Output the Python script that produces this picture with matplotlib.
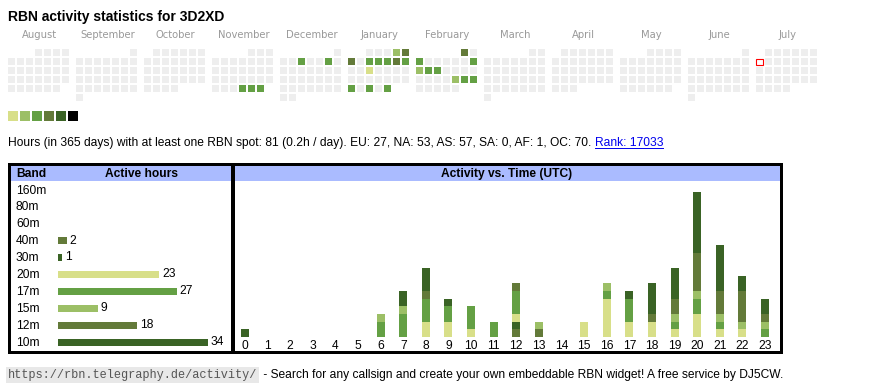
import datetime as dt
import matplotlib
matplotlib.use("Agg")
import matplotlib.pyplot as plt
from matplotlib.patches import Rectangle

W, H = 870, 390

# calendar data (Aug 2024 - Jul 2025), weeks start on Monday
months = ["August", "September", "October", "November", "December", "January",
          "February", "March", "April", "May", "June", "July"]
month_starts = [(2024, 8), (2024, 9), (2024, 10), (2024, 11), (2024, 12), (2025, 1),
                (2025, 2), (2025, 3), (2025, 4), (2025, 5), (2025, 6), (2025, 7)]
today = dt.date(2025, 7, 7)

active_days = ["2024-11-28", "2024-11-29", "2024-11-30", "2024-12-04", "2024-12-07",
               "2025-01-04", "2025-01-05", "2025-01-06", "2025-01-08", "2025-01-09",
               "2025-01-10", "2025-01-11", "2025-01-12", "2025-01-15", "2025-01-27",
               "2025-01-29", "2025-01-31", "2025-02-01", "2025-02-03", "2025-02-09",
               "2025-02-10", "2025-02-11", "2025-02-12", "2025-02-21", "2025-02-22",
               "2025-02-23"]
active_levels = [3, 3, 3, 3, 3,
                 2, 4, 4, 3, 3,
                 3, 4, 3, 1, 3,
                 3, 3, 4, 3, 3,
                 2, 3, 3, 2, 3,
                 3]

level_colors = ["#eeeeee", "#d8df89", "#9cbf66", "#64a044", "#637a39", "#3a6325", "#000000"]

# bands
bands = ["160m", "80m", "60m", "40m", "30m", "20m", "17m", "15m", "12m", "10m"]
band_hours = [0, 0, 0, 2, 1, 23, 27, 9, 18, 34]
band_colors = ["#d8df89", "#9cbf66", "#64a044", "#637a39", "#3a6325",
               "#d8df89", "#64a044", "#9cbf66", "#637a39", "#3a6325"]

# active hours per UTC hour for each band
hours = list(range(24))
h_160m = [0] * 24
h_80m = [0] * 24
h_60m = [0] * 24
h_40m = [0, 0, 0, 0, 0, 0, 0, 0, 0, 0, 0, 0, 1, 1, 0, 0, 0, 0, 0, 0, 0, 0, 0, 0]
h_30m = [0, 0, 0, 0, 0, 0, 0, 0, 0, 0, 0, 0, 1, 0, 0, 0, 0, 0, 0, 0, 0, 0, 0, 0]
h_20m = [0, 0, 0, 0, 0, 0, 0, 0, 2, 2, 1, 0, 1, 0, 0, 2, 5, 2, 2, 1, 3, 1, 1, 0]
h_17m = [0, 0, 0, 0, 0, 0, 2, 3, 3, 2, 3, 2, 3, 0, 0, 0, 1, 3, 0, 1, 2, 1, 0, 1]
h_15m = [0, 0, 0, 0, 0, 0, 1, 1, 0, 0, 0, 0, 0, 1, 0, 0, 1, 0, 0, 1, 1, 1, 1, 1]
h_12m = [0, 0, 0, 0, 0, 0, 0, 0, 1, 0, 0, 0, 1, 0, 0, 0, 0, 0, 1, 2, 5, 3, 4, 1]
h_10m = [1, 0, 0, 0, 0, 0, 0, 2, 3, 1, 0, 0, 0, 0, 0, 0, 0, 1, 4, 4, 8, 6, 2, 2]
hourly = [h_160m, h_80m, h_60m, h_40m, h_30m, h_20m, h_17m, h_15m, h_12m, h_10m]

title = "RBN activity statistics for 3D2XD"
info = ("Hours (in 365 days) with at least one RBN spot: 81 (0.2h / day). "
        "EU: 27, NA: 53, AS: 57, SA: 0, AF: 1, OC: 70.")
rank = "Rank: 17033"
url = "https://rbn.telegraphy.de/activity/"
footer = " - Search for any callsign and create your own embeddable RBN widget! A free service by DJ5CW."

SANS = ["Liberation Sans", "DejaVu Sans"]
FS = 8.64
HEAD_BLUE = "#aabbff"


def px_rect(x0, y0, x1, y1):
    return [x0 / W, 1 - y1 / H, (x1 - x0) / W, (y1 - y0) / H]


fig = plt.figure(figsize=(W / 100, H / 100), dpi=100)
ax = fig.add_axes([0, 0, 1, 1])
ax.set_xlim(0, W)
ax.set_ylim(H, 0)
ax.axis("off")

ax.text(8, 21, title, fontsize=10.0, fontweight="bold", family=SANS, va="baseline")

# calendar grid
levels = dict(zip(active_days, active_levels))
for k, (name, (yy, mm)) in enumerate(zip(months, month_starts)):
    x0 = 8 + 68 * k
    ax.text(x0 + 31.5, 38, name, fontsize=7.2, color="#999999", family="DejaVu Sans",
            ha="center", va="baseline")
    d = dt.date(yy, mm, 1)
    offset = d.weekday()
    while d.month == mm:
        col = d.weekday()
        row = (d.day - 1 + offset) // 7
        lvl = levels.get(d.isoformat(), 0)
        cx, cy = x0 + 9 * col, 49 + 9 * row
        if d == today:
            ax.add_patch(Rectangle((cx + 0.5, cy + 0.5), 6.5, 6.5, facecolor="white",
                                   edgecolor="red", linewidth=0.8))
        else:
            ax.add_patch(Rectangle((cx, cy), 7, 7, facecolor=level_colors[lvl], linewidth=0))
        d += dt.timedelta(days=1)

# legend squares
for i, c in enumerate(level_colors[1:]):
    ax.add_patch(Rectangle((8 + 12 * i, 111), 10, 10, facecolor=c, linewidth=0))

# info line
t_info = ax.text(8, 146, info, fontsize=FS, family=SANS, va="baseline")
fig.canvas.draw()
inv = ax.transData.inverted()
bb = t_info.get_window_extent()
x_end = inv.transform((bb.x1, bb.y0))[0]
t_rank = ax.text(x_end + 3.5, 146, rank, fontsize=FS, family=SANS, color="#0000ee",
                 va="baseline")
fig.canvas.draw()
bb = t_rank.get_window_extent()
rx0 = inv.transform((bb.x0, bb.y0))[0]
rx1 = inv.transform((bb.x1, bb.y0))[0]
ax.plot([rx0, rx1], [147.5, 147.5], color="#0000ee", linewidth=0.7)

# boxes and headers
ax.add_patch(Rectangle((11, 165), 220, 16, facecolor=HEAD_BLUE, linewidth=0))
ax.add_patch(Rectangle((235, 165), 545, 16, facecolor=HEAD_BLUE, linewidth=0))
ax.add_patch(Rectangle((9.5, 163.5), 223, 188, facecolor="none", edgecolor="black",
                       linewidth=2.16, joinstyle="miter"))
ax.add_patch(Rectangle((233.5, 163.5), 547.5, 188, facecolor="none", edgecolor="black",
                       linewidth=2.16, joinstyle="miter"))
ax.text(16, 177, "Band", fontsize=FS, fontweight="bold", family=SANS, va="baseline")
ax.text(142, 177, "Active hours", fontsize=FS, fontweight="bold", family=SANS,
        ha="center", va="baseline")
ax.text(507, 177, "Activity vs. Time (UTC)", fontsize=FS, fontweight="bold", family=SANS,
        ha="center", va="baseline")

for i, b in enumerate(bands):
    ax.text(16, 193.5 + 16.95 * i, b, fontsize=FS, family=SANS, va="baseline")

# band bars
axb = fig.add_axes(px_rect(58, 181, 230, 350))
axb.set_xlim(0, 172 / 4.41)
axb.set_ylim(9.457, -0.513)
axb.axis("off")
bars = axb.barh(range(len(bands)), band_hours, height=0.41, color=band_colors, linewidth=0)
axb.bar_label(bars, labels=[str(v) if v else "" for v in band_hours], padding=2,
              fontsize=FS, family=SANS)

# hourly stacked bars
axh = fig.add_axes(px_rect(233.7, 181, 776.3, 337))
axh.set_xlim(-0.5, 23.5)
axh.set_ylim(0, 156 / 7.65)
bottom = [0] * 24
for vals, c in zip(hourly, band_colors):
    axh.bar(hours, vals, bottom=bottom, width=0.354, color=c, linewidth=0)
    bottom = [b + v for b, v in zip(bottom, vals)]
for s in axh.spines.values():
    s.set_visible(False)
axh.set_yticks([])
axh.set_xticks(hours)
axh.set_xticklabels([str(h) for h in hours], fontsize=FS, family=SANS)
axh.tick_params(axis="x", length=0, pad=2.5)
axh.patch.set_alpha(0)

# footer
ax.text(8, 378, url, fontsize=8.6, family=["Liberation Mono", "DejaVu Sans Mono"],
        color="#555555", va="baseline",
        bbox=dict(boxstyle="square,pad=0.15", facecolor="#e8e8e8", edgecolor="none"))
ax.text(260, 378, footer, fontsize=FS, family=SANS, va="baseline")

fig.savefig("out.png", dpi=100)
